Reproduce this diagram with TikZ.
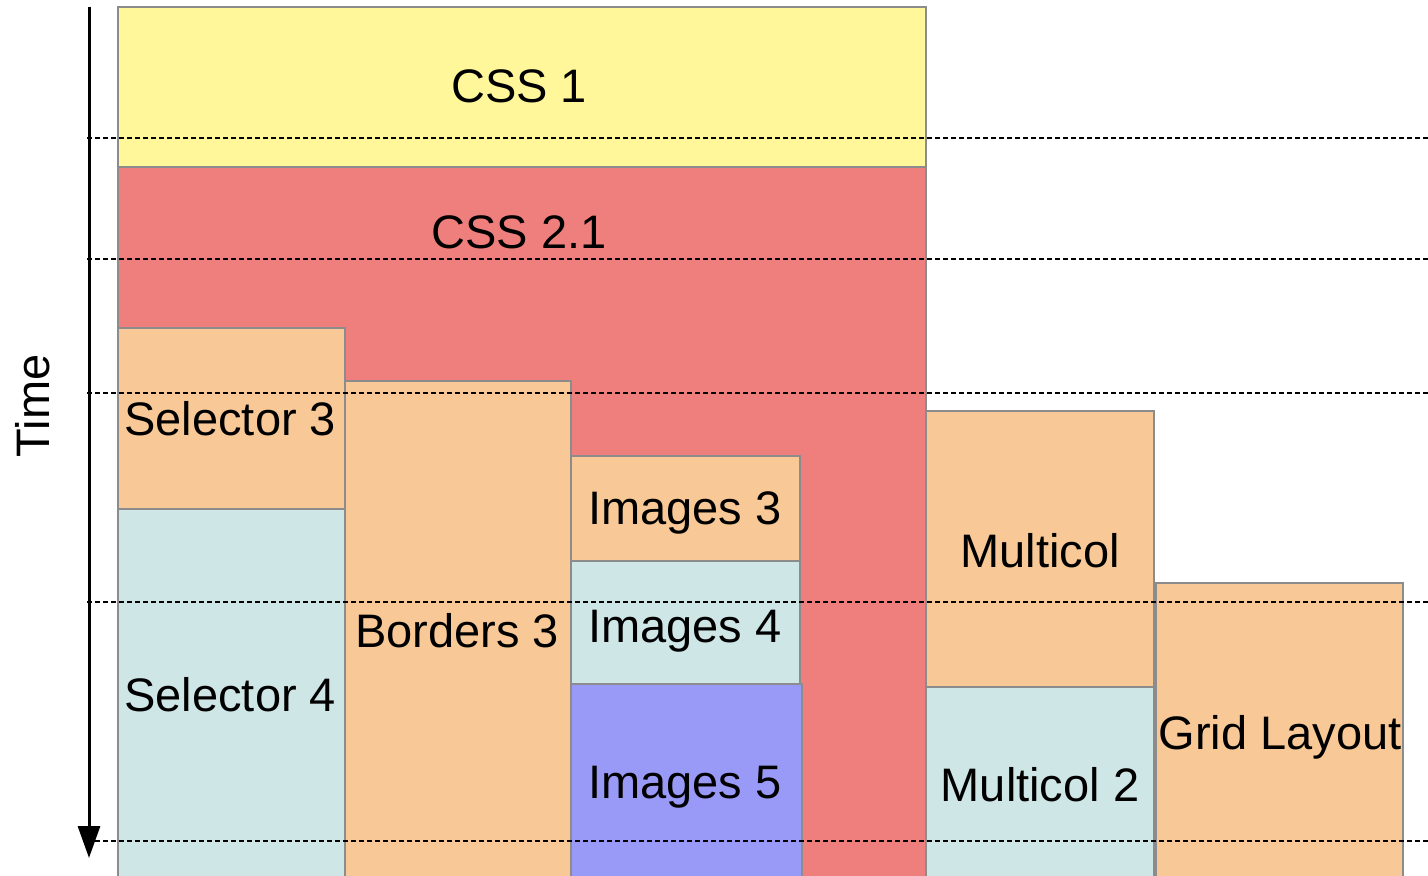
\documentclass[tikz,border=0pt]{standalone}
\usepackage{fontspec}
\setmainfont{Liberation Sans}
\usetikzlibrary{arrows.meta}
\definecolor{spec-yellow}{RGB}{255,247,153}
\definecolor{spec-red}{RGB}{239,127,125}
\definecolor{spec-orange}{RGB}{248,201,150}
\definecolor{spec-blue}{RGB}{207,230,230}
\definecolor{spec-purple}{RGB}{153,153,247}
\definecolor{spec-border}{RGB}{140,140,140}
\tikzset{
    spec-box/.style = {draw=spec-border, line width=1pt},
    spec-label/.style = {font=\fontsize{23.5}{28}\selectfont, inner sep=0pt, anchor=base},
    time-line/.style = {draw=black, dash pattern=on 2.5pt off 1.5pt, line width=0.6pt},
}

\begin{document}
\begin{tikzpicture}[x=0.5pt, y=-0.5pt]
\useasboundingbox (0,0) rectangle (1428,876);
\clip (0,0) rectangle (1428,876);
% spec boxes
\draw[spec-box, fill=spec-yellow] (118,7) rectangle (926,167);
\draw[spec-box, fill=spec-red] (118,167) rectangle (926,890);
\draw[spec-box, fill=spec-orange] (118,328) rectangle (345,509);
\draw[spec-box, fill=spec-blue] (118,509) rectangle (345,890);
\draw[spec-box, fill=spec-orange] (345,381) rectangle (571,890);
\draw[spec-box, fill=spec-orange] (571,456) rectangle (800,561);
\draw[spec-box, fill=spec-blue] (571,561) rectangle (800,684);
\draw[spec-box, fill=spec-purple] (571,684) rectangle (802,890);
\draw[spec-box, fill=spec-orange] (926,411) rectangle (1154,687);
\draw[spec-box, fill=spec-blue] (926,687) rectangle (1154,890);
\draw[spec-box, fill=spec-orange] (1156,583) rectangle (1403,890);
% time marks
\foreach \y in {138,259,393,602,841}
    \draw[time-line] (87,\y) -- (1428,\y);
% labels
\node[spec-label] (css-one) at (519,103) {CSS 1};
\node[spec-label] (css-two) at (519,249) {CSS 2.1};
\node[spec-label, anchor=base west] (sel-three) at (124,436) {Selector 3};
\node[spec-label, anchor=base west] (sel-four) at (124,711) {Selector 4};
\node[spec-label] (bord-three) at (457,647) {Borders 3};
\node[spec-label] (img-three) at (685,524) {Images 3};
\node[spec-label] (img-four) at (685,642) {Images 4};
\node[spec-label] (img-five) at (685,798) {Images 5};
\node[spec-label] (mcol) at (1040,567) {Multicol};
\node[spec-label] (mcol-two) at (1040,801) {Multicol 2};
\node[spec-label] (grid) at (1280,749) {Grid Layout};
% time axis
\coordinate (time-top) at (89,7);
\coordinate (time-end) at (89,858);
\draw[line width=1.5pt, -{Triangle[length=16pt,width=11pt]}] (time-top) -- (time-end);
\node[spec-label, anchor=center, rotate=90] (time) at (33,406) {Time};
\end{tikzpicture}
\end{document}
